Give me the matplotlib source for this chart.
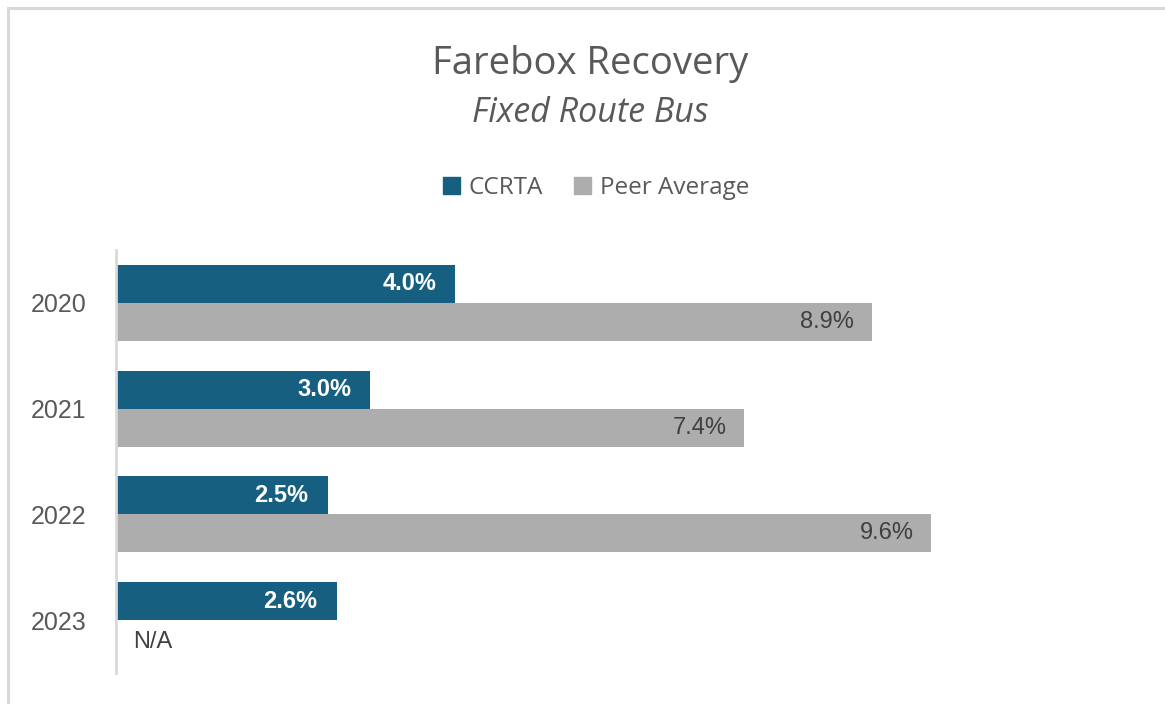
import matplotlib
matplotlib.use("Agg")
import matplotlib.pyplot as plt
from matplotlib.patches import Patch, Rectangle
import numpy as np

years = ["2020", "2021", "2022", "2023"]
ccrta = [4.0, 3.0, 2.5, 2.6]
peer = [8.9, 7.4, 9.6, np.nan]
series_names = ["CCRTA", "Peer Average"]
title = "Farebox Recovery"
subtitle = "Fixed Route Bus"

W, H = 1165, 704
fig = plt.figure(figsize=(W / 100, H / 100), dpi=100)
fig.patch.set_facecolor("white")

C_BLUE = "#175F80"
C_GRAY = "#ADADAD"
C_TEXT = "#595959"
LBL_FONT = ["Liberation Sans", "DejaVu Sans"]
TTL_FONT = ["Open Sans", "DejaVu Sans"]

# outer border (only top & left visible in reference)
fig.add_artist(Rectangle((8 / W, -0.1), 1.2, 1 - 8 / H + 0.1, transform=fig.transFigure,
                         fill=False, edgecolor="#D9D9D9", linewidth=2.2, clip_on=False))

ax = fig.add_axes([115.5 / W, (H - 673) / H, 1000 / W, 423 / H])
px_per_pct = 85.0
ax.set_xlim(0, 1000 / px_per_pct)
ax.set_ylim(3.5, -0.5)

y = np.arange(len(years))
bh = 38 / 106
ax.barh(y - bh / 2, ccrta, height=bh, color=C_BLUE, label=series_names[0])
ax.barh(y + bh / 2, np.nan_to_num(peer), height=bh, color=C_GRAY, label=series_names[1])

for yi, v in zip(y, ccrta):
    ax.annotate(f"{v:.1f}%", xy=(v, yi - bh / 2), xytext=(-14, 0), textcoords="offset points",
                ha="right", va="center", color="white", fontweight="bold", fontsize=17,
                family=LBL_FONT)
for yi, v in zip(y, peer):
    if np.isnan(v):
        ax.annotate("N/A", xy=(0, yi + bh / 2), xytext=(13, -2), textcoords="offset points",
                    ha="left", va="center", color="#404040", fontsize=17, family=LBL_FONT)
    else:
        ax.annotate(f"{v:.1f}%", xy=(v, yi + bh / 2), xytext=(-13, 0), textcoords="offset points",
                    ha="right", va="center", color="#404040", fontsize=17, family=LBL_FONT)

ax.set_yticks(y)
ax.set_yticklabels(years, fontsize=18, color=C_TEXT, family=LBL_FONT)
ax.tick_params(axis="y", length=0, pad=21)
ax.set_xticks([])
for s in ["top", "right", "bottom"]:
    ax.spines[s].set_visible(False)
ax.spines["left"].set_color("#D9D9D9")
ax.spines["left"].set_linewidth(2)

fig.text(590 / W, 1 - 64 / H, title, ha="center", va="center", fontsize=27.5, color=C_TEXT,
         family=TTL_FONT)
fig.text(590 / W, 1 - 113 / H, subtitle, ha="center", va="center", fontsize=24.5, color=C_TEXT,
         family=TTL_FONT, style="italic")

handles = [Patch(color=C_BLUE, label=series_names[0]), Patch(color=C_GRAY, label=series_names[1])]
fig.legend(handles=handles, loc="center", bbox_to_anchor=(596 / W, 1 - 188 / H), ncol=2,
           frameon=False, handlelength=0.7, handleheight=0.7, handletextpad=0.35,
           columnspacing=1.3, prop={"family": TTL_FONT, "size": 17.5}, labelcolor=C_TEXT)

fig.savefig("out.png", dpi=100)
